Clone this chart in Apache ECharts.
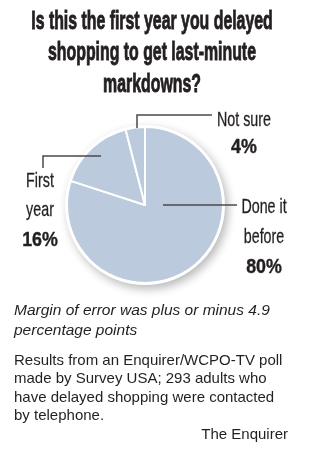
<!DOCTYPE html>
<html>
<head>
<meta charset="utf-8">
<script src="https://cdn.jsdelivr.net/npm/echarts@6/dist/echarts.min.js"></script>
<style>
  html, body { margin: 0; padding: 0; background: #fff; }
  #chart { width: 312px; height: 462px; }
</style>
</head>
<body>
<div id="chart"></div>
<script>
// 数据
var titleLines = ['Is this the first year you delayed', 'shopping to get last-minute', 'markdowns?'];
var categories = ['Done it\nbefore', 'First\nyear', 'Not sure'];
var values = [80, 16, 4];
var footnoteLines = ['Margin of error was plus or minus 4.9', 'percentage points'];
var sourceLines = [
    'Results from an Enquirer/WCPO-TV poll',
    'made by Survey USA; 293 adults who',
    'have delayed shopping were contacted',
    'by telephone.'
];
var credit = 'The Enquirer';

var pieColor = '#bbcadc';
var textColor = '#231f20';
var lineColor = '#4a4a4a';
var center = [145, 205];
var radius = 78;

// 标签位置 (中心x, 第一行y, 行距)
var labelPos = [
    { cx: 264, y: 207.5, step: 30 },
    { cx: 40, y: 181, step: 29.5 },
    { cx: 244, y: 120, step: 27 }
];
// 引导线
var leaderLines = [
    [[163, 205], [237, 205]],
    [[101, 156], [43, 156], [43, 168]],
    [[137, 128], [137, 115], [212, 115]]
];

var graphics = [];

// 标题
titleLines.forEach(function (t, i) {
    graphics.push({
        type: 'text', x: 152, y: 21.5 + i * 31.5, scaleX: 0.61,
        style: {
            text: t, textAlign: 'center', textVerticalAlign: 'middle',
            font: 'bold 26px "Liberation Sans", Arial, sans-serif', fill: textColor,
            stroke: textColor, lineWidth: 0.9
        }
    });
});

// 饼图标签
categories.forEach(function (name, i) {
    var p = labelPos[i];
    var lines = name.split('\n');
    lines.forEach(function (l, j) {
        graphics.push({
            type: 'text', x: p.cx, y: p.y + j * p.step, scaleX: 0.68,
            style: {
                text: l, textAlign: 'center', textVerticalAlign: 'middle',
                font: '21px "Liberation Sans", Arial, sans-serif', fill: textColor,
                stroke: textColor, lineWidth: 0.3
            }
        });
    });
    graphics.push({
        type: 'text', x: p.cx, y: p.y + lines.length * p.step, scaleX: 0.85,
        style: {
            text: values[i] + '%', textAlign: 'center', textVerticalAlign: 'middle',
            font: 'bold 21px "Liberation Sans", Arial, sans-serif', fill: textColor,
            stroke: textColor, lineWidth: 0.4
        }
    });
    graphics.push({
        type: 'polyline', z: 10,
        shape: { points: leaderLines[i] },
        style: { stroke: lineColor, lineWidth: 1.5, fill: null }
    });
});

// 注释
footnoteLines.forEach(function (t, i) {
    graphics.push({
        type: 'text', x: 14, y: 310.5 + i * 20,
        style: {
            text: t, textAlign: 'left', textVerticalAlign: 'middle',
            font: 'italic 15.5px "Liberation Sans", Arial, sans-serif', fill: textColor
        }
    });
});
sourceLines.forEach(function (t, i) {
    graphics.push({
        type: 'text', x: 14, y: 360.5 + i * 18.5,
        style: {
            text: t, textAlign: 'left', textVerticalAlign: 'middle',
            font: '15px "Liberation Sans", Arial, sans-serif', fill: textColor
        }
    });
});
graphics.push({
    type: 'text', x: 288, y: 435,
    style: {
        text: credit, textAlign: 'right', textVerticalAlign: 'middle',
        font: '15px "Liberation Sans", Arial, sans-serif', fill: textColor
    }
});

var chart = echarts.init(document.getElementById('chart'));
var option = {
    backgroundColor: '#fff',
    animation: false,
    series: [{
        // 白边+阴影底
        type: 'pie', silent: true, z: 1,
        center: center, radius: radius + 2,
        label: { show: false },
        itemStyle: {
            color: '#fff',
            shadowBlur: 10, shadowOffsetX: 3, shadowOffsetY: 4,
            shadowColor: 'rgba(0,0,0,0.28)'
        },
        data: [{ value: values.reduce(function (a, b) { return a + b; }, 0) }]
    }, {
        type: 'pie', silent: true, z: 2,
        center: center, radius: radius,
        startAngle: 90, clockwise: true,
        label: { show: false }, labelLine: { show: false },
        itemStyle: { color: pieColor, borderColor: '#fff', borderWidth: 2 },
        data: categories.map(function (c, i) { return { name: c, value: values[i] }; })
    }],
    graphic: graphics
};
chart.setOption(option);
</script>
</body>
</html>
